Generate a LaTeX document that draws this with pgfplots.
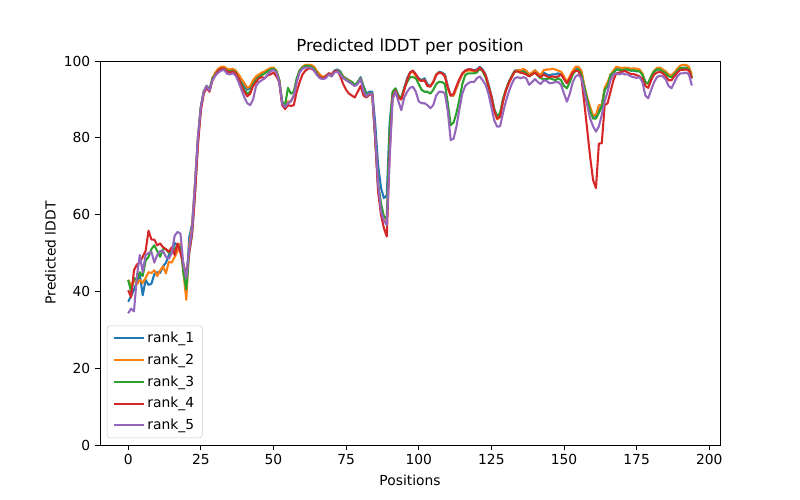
\documentclass[border=0pt]{standalone}
\usepackage{fontspec}
\setmainfont{DejaVu Sans}
\usepackage{pgfplots}
\usepackage{pgfplotstable}
\pgfplotsset{compat=1.18}
\definecolor{tabblue}{HTML}{1F77B4}
\definecolor{taborange}{HTML}{FF7F0E}
\definecolor{tabgreen}{HTML}{2CA02C}
\definecolor{tabred}{HTML}{D62728}
\definecolor{tabpurple}{HTML}{9467BD}

% position, rank_1 ... rank_5
\pgfplotstableread{
x r1 r2 r3 r4 r5
0 37.3 43.0 43.0 40.3 34.3
1 38.8 41.5 40.0 38.5 35.5
2 40.5 43.0 43.5 45.5 34.8
3 42.5 41.8 43.0 47.0 44.0
4 44.5 43.0 45.0 47.5 49.5
5 39.0 42.2 44.0 49.0 45.0
6 43.0 43.5 48.0 50.5 49.5
7 41.7 45.0 49.0 55.8 50.0
8 42.0 44.8 51.0 53.5 50.3
9 44.5 45.5 52.0 53.5 47.5
10 45.0 44.0 50.5 52.0 49.5
11 44.8 45.5 49.0 52.5 50.5
12 46.5 46.5 51.0 51.5 50.5
13 47.5 44.7 51.0 51.0 49.0
14 49.5 47.7 50.0 50.3 48.5
15 50.0 47.5 50.5 51.5 50.0
16 52.6 49.0 51.0 49.5 54.5
17 52.0 50.5 52.0 52.5 55.5
18 51.0 52.5 51.5 50.0 55.0
19 47.0 45.0 45.0 47.0 47.0
20 41.5 37.8 40.5 44.5 43.5
21 54.0 52.0 50.0 50.0 51.0
22 57.5 57.0 55.0 55.0 56.0
23 68.0 68.0 66.0 65.0 68.0
24 80.0 80.0 79.0 78.0 80.0
25 88.0 88.0 88.0 87.0 88.0
26 92.0 92.0 92.0 91.5 92.0
27 93.5 93.5 93.5 93.0 93.5
28 92.5 92.5 92.5 92.0 92.3
29 95.5 95.5 95.5 95.0 95.0
30 96.5 97.0 96.5 96.3 96.2
31 97.5 98.0 97.5 97.5 97.0
32 98.0 98.5 98.0 98.0 97.5
33 98.2 98.5 98.0 98.0 97.7
34 97.5 98.0 97.5 97.3 96.7
35 97.5 97.8 97.3 97.0 96.5
36 97.5 98.0 97.5 97.3 96.8
37 97.0 97.5 97.0 96.8 96.2
38 96.0 96.5 95.5 95.5 94.5
39 94.5 95.3 94.0 93.5 92.5
40 93.5 94.2 92.5 92.0 90.5
41 92.5 93.0 91.5 90.8 89.0
42 93.0 93.5 92.0 91.5 88.5
43 94.5 95.0 94.0 93.5 90.0
44 95.5 96.0 95.0 94.5 93.5
45 96.0 96.5 95.8 95.5 94.5
46 96.5 97.0 96.3 95.8 95.0
47 97.0 97.3 96.8 95.5 95.5
48 97.5 97.8 97.3 96.3 96.5
49 98.0 98.2 97.8 96.5 97.3
50 98.2 98.3 98.0 97.0 97.7
51 97.5 97.5 97.3 96.0 97.0
52 95.0 95.0 95.0 94.5 94.5
53 89.0 89.0 89.5 88.5 89.0
54 88.0 88.0 88.5 87.5 88.0
55 89.0 89.5 93.0 88.5 89.0
56 89.5 89.5 91.5 88.3 89.5
57 91.0 91.0 92.0 88.5 91.0
58 95.0 95.0 95.5 92.0 94.5
59 97.5 97.5 97.5 94.5 97.0
60 98.3 98.5 98.3 96.5 98.0
61 98.7 99.0 98.7 97.5 98.3
62 99.0 99.0 98.8 98.0 98.3
63 98.7 99.0 98.5 98.0 98.2
64 98.3 98.5 98.0 97.5 97.5
65 97.0 97.3 96.8 96.5 96.3
66 96.0 96.5 95.8 95.8 95.5
67 95.5 95.8 95.5 95.5 95.3
68 96.0 96.2 96.0 96.0 95.5
69 96.8 96.7 96.5 96.8 96.5
70 96.5 96.3 96.0 96.5 96.0
71 97.5 97.3 97.2 97.3 97.0
72 97.8 97.5 97.5 97.5 97.3
73 97.3 97.0 97.0 96.0 96.5
74 96.0 96.0 95.8 94.0 95.5
75 95.5 95.3 95.2 92.5 95.0
76 95.0 95.0 94.8 91.5 94.5
77 94.5 94.5 94.5 91.0 94.0
78 93.5 93.5 93.8 90.5 93.5
79 94.5 94.5 94.5 92.0 94.0
80 95.8 95.5 95.5 93.5 95.3
81 93.5 93.0 93.0 91.0 92.0
82 91.5 91.0 91.0 90.5 90.8
83 92.0 91.5 91.7 91.2 91.5
84 92.0 91.5 91.5 91.3 91.5
85 84.0 80.0 80.0 80.0 81.0
86 73.0 68.0 68.0 66.0 68.0
87 67.0 62.0 63.0 60.0 61.0
88 64.3 59.5 59.5 56.5 58.5
89 65.0 58.5 59.0 54.3 57.3
90 84.0 80.0 82.0 76.0 75.0
91 91.5 91.3 92.0 90.5 90.0
92 92.8 92.5 92.9 92.3 92.0
93 91.0 90.5 91.0 90.5 89.5
94 90.3 90.0 90.3 90.0 87.2
95 93.0 92.5 92.8 92.5 90.5
96 95.5 95.0 94.5 95.0 92.0
97 97.0 96.8 95.8 97.0 93.0
98 97.5 97.3 95.8 97.5 93.3
99 96.5 96.0 95.5 96.5 92.0
100 95.5 95.0 94.0 95.3 89.5
101 95.0 94.8 92.5 94.8 89.0
102 95.5 95.0 92.0 95.0 89.0
103 94.0 93.5 92.0 93.5 88.5
104 93.5 93.5 91.5 93.3 87.7
105 94.5 94.5 92.5 94.5 88.5
106 96.5 96.5 94.0 96.3 91.0
107 97.2 97.0 94.6 97.0 92.0
108 97.0 96.8 94.5 96.8 92.0
109 96.5 96.2 94.0 96.0 91.5
110 93.5 93.0 89.0 93.0 87.0
111 91.0 91.0 83.3 91.0 79.4
112 91.0 91.0 84.0 91.5 79.8
113 93.0 93.0 86.5 93.5 83.0
114 95.0 95.0 90.0 95.3 87.5
115 96.5 96.5 94.0 96.8 91.5
116 97.5 97.3 96.3 97.5 93.5
117 97.8 97.5 96.8 97.8 94.2
118 97.8 97.5 96.8 97.8 94.6
119 97.6 97.3 96.8 97.5 94.5
120 97.8 97.5 97.0 97.5 95.5
121 98.5 98.2 98.0 98.3 96.0
122 97.8 97.5 97.3 97.5 95.0
123 96.5 96.2 95.8 96.3 93.8
124 94.0 93.5 93.3 93.5 91.5
125 91.0 90.5 90.5 90.8 88.0
126 87.5 87.0 87.5 87.0 84.5
127 85.1 84.8 85.5 85.0 82.9
128 86.0 85.5 86.5 85.5 83.0
129 90.0 89.5 90.0 89.5 86.5
130 92.5 92.3 92.5 92.3 89.5
131 94.5 94.3 94.5 94.3 92.0
132 96.0 95.8 96.0 95.8 94.0
133 97.5 97.3 97.3 97.2 95.5
134 97.6 97.6 97.3 97.3 95.8
135 97.3 97.6 97.0 97.0 95.5
136 97.6 98.0 97.3 96.8 95.8
137 97.3 97.5 96.8 96.5 95.5
138 96.4 96.5 96.0 96.0 93.8
139 96.8 97.0 96.5 96.5 94.5
140 97.6 97.6 97.0 97.0 95.3
141 96.8 96.8 96.2 96.3 94.5
142 96.3 96.5 95.5 95.8 94.0
143 97.0 97.6 95.3 96.5 95.0
144 96.5 97.8 95.3 96.0 94.8
145 96.3 97.8 95.5 95.8 94.2
146 96.5 98.0 95.3 96.0 94.3
147 96.5 97.8 95.0 95.8 94.5
148 96.8 97.5 95.5 96.0 94.5
149 96.5 97.2 95.0 96.5 93.8
150 95.5 96.0 93.5 95.3 91.5
151 94.2 94.5 92.9 94.2 89.4
152 95.5 96.0 94.5 95.5 91.5
153 97.0 97.5 96.5 97.0 94.5
154 98.0 98.5 97.5 97.5 96.0
155 98.0 98.5 97.8 97.3 96.4
156 97.0 97.5 96.5 95.5 95.5
157 93.5 93.5 93.0 89.0 92.0
158 90.0 90.5 90.0 82.0 88.5
159 87.5 88.0 87.0 75.0 85.0
160 85.5 85.8 85.0 69.0 83.0
161 85.5 86.0 85.0 66.9 81.6
162 87.0 88.5 86.5 78.5 83.0
163 88.5 88.5 88.0 78.6 86.0
164 92.5 93.0 92.5 88.5 89.5
165 93.5 94.5 93.5 89.0 92.0
166 95.5 96.4 96.4 92.0 95.0
167 97.0 97.5 97.0 95.0 96.5
168 97.8 98.5 97.8 96.8 96.8
169 97.8 98.3 97.8 97.0 96.5
170 97.5 98.2 97.6 97.2 96.8
171 97.8 98.3 97.8 97.4 96.5
172 97.8 98.2 97.8 97.0 96.5
173 97.5 98.0 97.5 96.6 96.0
174 97.5 98.1 97.6 96.6 95.8
175 97.3 98.0 97.4 96.3 95.6
176 97.5 97.8 97.3 96.0 95.8
177 96.5 96.8 96.4 95.3 94.5
178 94.5 94.3 94.5 93.5 91.0
179 94.0 94.0 94.2 93.0 90.3
180 96.0 96.0 96.0 95.0 92.5
181 97.3 97.5 97.3 96.5 94.5
182 97.8 98.2 97.8 97.0 95.8
183 98.0 98.3 97.8 97.2 96.2
184 97.5 97.8 97.3 96.8 96.0
185 97.0 97.3 96.8 96.0 95.2
186 96.2 96.5 96.0 95.0 93.5
187 96.0 96.3 95.8 95.0 92.9
188 96.8 97.0 96.5 96.0 94.5
189 97.5 98.0 97.5 97.0 96.0
190 98.2 98.8 98.2 97.7 96.8
191 98.2 99.0 98.2 97.7 96.8
192 98.2 99.0 98.3 97.8 97.0
193 97.8 98.5 97.8 97.5 96.5
194 95.5 96.5 95.8 95.5 93.6
}\lddt

\begin{document}
\begin{tikzpicture}
\begin{axis}[
  at={(72.27pt,39.75pt)}, anchor=south west,
  width=448.1pt, height=277.5pt, scale only axis,
  xmin=-9.7, xmax=203.7, ymin=0, ymax=100,
  xtick={0,25,...,200}, ytick={0,20,...,100},
  tick align=outside, xtick pos=bottom, ytick pos=left,
  major tick length=3.5pt,
  tick style={black, line width=0.6pt},
  axis line style={line width=0.6pt},
  tick label style={font=\fontsize{10}{12}\selectfont},
  /pgf/number format/assume math mode=true,
  title={Predicted lDDT per position},
  title style={font=\fontsize{12}{14}\selectfont, yshift=-5pt},
  xlabel={Positions}, ylabel={Predicted lDDT},
  label style={font=\fontsize{10}{12}\selectfont},
  xlabel style={yshift=0pt}, ylabel style={yshift=-1pt},
  legend cell align=left,
  legend style={at={(0.011,0.018)}, anchor=south west,
    draw=black!20, rounded corners=2pt, fill=white, fill opacity=0.8,
    text opacity=1, font=\fontsize{10}{12}\selectfont,
    row sep=2.6pt, inner xsep=4pt, inner ysep=2.5pt},
  legend image code/.code={\draw[#1, line width=1.5pt] (0cm,0cm) -- (0.76cm,0cm);},
]
\addplot[tabblue, line width=1.5pt, line join=round] table[x=x, y=r1] {\lddt};
\addplot[taborange, line width=1.5pt, line join=round] table[x=x, y=r2] {\lddt};
\addplot[tabgreen, line width=1.5pt, line join=round] table[x=x, y=r3] {\lddt};
\addplot[tabred, line width=1.5pt, line join=round] table[x=x, y=r4] {\lddt};
\addplot[tabpurple, line width=1.5pt, line join=round] table[x=x, y=r5] {\lddt};
\legend{rank\_1, rank\_2, rank\_3, rank\_4, rank\_5}
\end{axis}
\useasboundingbox (0,0) rectangle (578.16pt,361.35pt);
\end{tikzpicture}
\end{document}
